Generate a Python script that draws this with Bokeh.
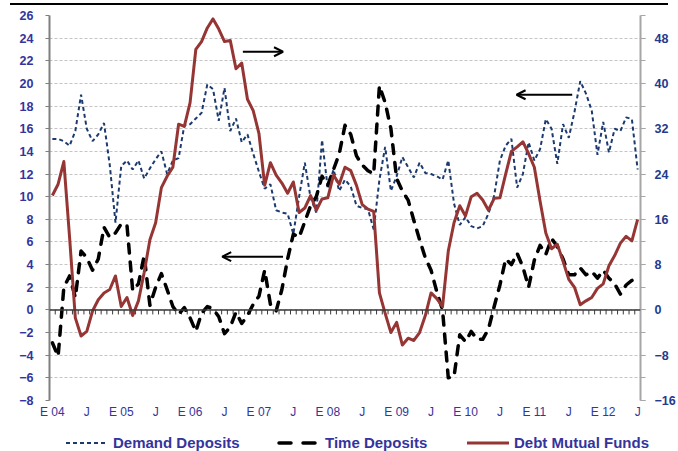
from bokeh.plotting import figure
from bokeh.models import (Range1d, LinearAxis, FixedTicker, SingleIntervalTicker,
                          Arrow, OpenHead, Span, Div)
from bokeh.layouts import column
from bokeh.embed import file_html
from bokeh.resources import INLINE

# Monthly observations, Jan 2004 .. Jul 2012 (annual growth, %)
months = list(range(103))

tick_positions = list(range(0, 103, 6))
tick_labels = ["E 04", "J", "E 05", "J", "E 06", "J", "E 07", "J", "E 08", "J",
               "E 09", "J", "E 10", "J", "E 11", "J", "E 12", "J"]

series_names = ["Demand Deposits", "Time Deposits", "Debt Mutual Funds"]

# left axis
demand_deposits = [
    15.1, 15.1, 14.9, 14.5, 15.8, 19.0, 16.0, 14.9, 15.5, 16.5, 12.8, 7.7,
    12.7, 13.2, 12.4, 13.2, 11.6, 12.5, 13.3, 14.0, 12.0, 13.2, 13.4, 16.3,
    16.4, 16.9, 17.4, 19.9, 19.5, 16.7, 19.6, 15.8, 16.9, 14.8, 15.5, 13.8,
    12.2, 10.7, 11.1, 8.8, 8.6, 8.5, 6.7, 10.0, 13.0, 9.9, 8.6, 15.0,
    10.7, 12.4, 10.5, 11.5, 10.9, 9.2, 9.0, 8.9, 7.1, 11.5, 14.4, 10.5,
    11.8, 13.5, 12.6, 11.7, 13.0, 12.1, 12.0, 11.8, 11.5, 13.2, 9.4, 7.5,
    8.2, 7.4, 7.2, 7.4, 8.5, 10.1, 13.2, 14.5, 15.1, 10.8, 12.0, 14.8,
    13.2, 14.2, 16.85, 16.0, 12.9, 16.4, 15.2, 17.5, 20.2, 19.1, 17.6, 13.7,
    16.6, 13.9, 16.0, 15.8, 17.0, 16.85, 12.4,
]

# left axis
time_deposits = [
    -2.9, -4.1, 2.0, 3.0, 1.1, 5.2, 4.6, 3.5, 4.5, 7.3, 6.4, 6.8,
    7.6, 7.5, 1.7, 2.3, 4.8, 0.4, 2.0, 3.2, 1.8, 0.3, -0.4, 0.2,
    -0.7, -1.9, -0.3, 0.3, 0.1, -0.6, -2.1, -1.5, -0.2, -1.2, -0.5, 0.5,
    1.2, 3.5, 0.5, -0.1, 1.8, 4.5, 6.7, 6.4, 7.8, 9.2, 10.0, 11.8,
    11.0, 12.4, 13.8, 16.3, 15.5, 13.6, 12.8, 12.3, 12.0, 19.8, 18.3, 16.0,
    11.6, 10.5, 9.7, 7.9, 6.2, 4.6, 3.5, 1.6, 0.0, -6.0, -5.9, -2.2,
    -2.8, -1.9, -2.6, -2.6, -1.7, 0.3, 2.2, 4.5, 4.0, 5.0, 3.8, 2.0,
    4.4, 5.7, 4.9, 6.3, 5.6, 4.5, 3.1, 3.1, 3.7, 3.1, 3.4, 2.8,
    3.5, 2.8, 2.3, 1.4, 2.2, 2.6, 2.9,
]

# right axis
debt_mutual_funds = [
    20.2, 22.2, 26.2, 12.8, -1.4, -4.6, -3.8, -0.2, 1.8, 3.0, 3.6, 6.0,
    0.6, 2.2, -1.0, 1.6, 6.6, 12.4, 15.4, 21.6, 23.6, 25.2, 32.8, 32.4,
    36.6, 46.0, 47.4, 49.8, 51.4, 49.6, 47.4, 47.6, 42.6, 43.6, 37.2, 35.2,
    31.2, 22.0, 26.0, 23.8, 22.4, 20.6, 22.6, 17.2, 18.0, 20.2, 17.6, 19.6,
    19.8, 23.8, 22.2, 25.2, 24.6, 22.0, 18.6, 17.8, 17.4, 3.0, -0.6, -4.0,
    -2.2, -6.2, -5.0, -5.4, -4.0, -1.0, 3.0, 2.0, 0.6, 10.4, 15.4, 18.4,
    16.6, 20.0, 20.6, 19.4, 17.6, 19.7, 19.8, 24.0, 28.0, 28.8, 29.7, 27.6,
    25.2, 19.2, 13.6, 10.8, 11.6, 8.6, 5.4, 4.0, 0.9, 1.6, 2.2, 3.8,
    4.6, 7.8, 9.6, 11.8, 13.0, 12.2, 16.0,
]

LABEL_BLUE = "#34349c"
RIGHT_BLUE = "#233a8e"
DEMAND_COLOR = "#1c3a6e"
DEBT_COLOR = "#963634"

p = figure(width=678, height=418, output_backend="svg", toolbar_location=None,
           x_range=Range1d(-0.5, len(months) - 0.5), y_range=Range1d(-8, 26),
           min_border_left=49, min_border_right=37, min_border_top=9,
           min_border_bottom=24)
p.outline_line_color = None
p.extra_y_ranges = {"right": Range1d(-16, 52)}

# horizontal grid
p.xgrid.visible = False
p.ygrid.ticker = SingleIntervalTicker(interval=2, num_minor_ticks=0)
p.ygrid.grid_line_color = "#c4c4c4"
p.ygrid.grid_line_dash = "3 2"
p.ygrid.grid_line_width = 1

# left axis
ly = p.yaxis[0]
ly.ticker = SingleIntervalTicker(interval=2, num_minor_ticks=0)
ly.axis_line_color = "#7f7f7f"
ly.axis_line_width = 2
ly.major_tick_line_color = "#7f7f7f"
ly.major_tick_out = 4
ly.major_tick_in = 0
ly.minor_tick_line_color = None
ly.minor_tick_out = 0
ly.major_label_standoff = 12
ly.major_label_text_font = "Liberation Sans"
ly.major_label_text_font_style = "bold"
ly.major_label_text_font_size = "12.5px"
ly.major_label_text_color = LABEL_BLUE

# right axis
ry = LinearAxis(y_range_name="right",
                ticker=SingleIntervalTicker(interval=8, num_minor_ticks=2))
ry.axis_line_color = "#a6a6a6"
ry.axis_line_width = 2
ry.major_tick_line_color = "#a6a6a6"
ry.minor_tick_line_color = "#a6a6a6"
ry.major_tick_out = 5
ry.major_tick_in = 0
ry.minor_tick_out = 5
ry.minor_tick_in = 0
ry.major_label_standoff = 9
ry.major_label_text_font = "Liberation Sans"
ry.major_label_text_font_style = "bold"
ry.major_label_text_font_size = "12.5px"
ry.major_label_text_color = RIGHT_BLUE
p.add_layout(ry, "right")

# bottom axis: labels only, the month ticks sit on the zero line
bx = p.xaxis[0]
bx.ticker = FixedTicker(ticks=tick_positions)
bx.major_label_overrides = {t: s for t, s in zip(tick_positions, tick_labels)}
bx.axis_line_color = None
bx.major_tick_line_color = None
bx.minor_tick_line_color = None
bx.major_tick_out = 0
bx.major_tick_in = 0
bx.minor_tick_out = 0
bx.major_label_standoff = 4
bx.major_label_text_font = "Liberation Sans"
bx.major_label_text_font_size = "12px"
bx.major_label_text_color = LABEL_BLUE

# zero line with a tick at every month boundary
p.add_layout(Span(location=0, dimension="width", line_color="#3a3a3a", line_width=1.5))
edges = [m - 0.5 for m in months] + [months[-1] + 0.5]
p.segment(x0=edges, y0=[0] * len(edges), x1=edges, y1=[-0.4] * len(edges),
          line_color="#3a3a3a", line_width=1)

p.line(months, demand_deposits, line_color=DEMAND_COLOR, line_width=2, line_dash="4 3")
p.line(months, time_deposits, line_color="black", line_width=3.5, line_dash="9 9",
       line_cap="round", line_join="round")
p.line(months, debt_mutual_funds, y_range_name="right", line_color=DEBT_COLOR,
       line_width=3, line_join="round")

# arrows showing which axis each series is read against
head = dict(size=9, line_width=2, line_color="black")
p.add_layout(Arrow(x_start=33.2, y_start=22.8, x_end=40.2, y_end=22.8,
                   end=OpenHead(**head), line_width=2, line_color="black"))
p.add_layout(Arrow(x_start=90.6, y_start=19.0, x_end=80.9, y_end=19.0,
                   end=OpenHead(**head), line_width=2, line_color="black"))
p.add_layout(Arrow(x_start=40.2, y_start=4.7, x_end=29.6, y_end=4.7,
                   end=OpenHead(**head), line_width=2, line_color="black"))

# key strip underneath the chart
key_samples = [
    '<line x1="66" y1="19" x2="108" y2="19" stroke="%s" stroke-width="2" '
    'stroke-dasharray="4 3"/>' % DEMAND_COLOR,
    '<line x1="279" y1="19" x2="316" y2="19" stroke="black" stroke-width="3.5" '
    'stroke-dasharray="12 12" stroke-linecap="round"/>',
    '<line x1="467" y1="19" x2="509" y2="19" stroke="%s" stroke-width="3"/>' % DEBT_COLOR,
]
key_text_x = [113, 325, 514]
key_svg = ['<svg xmlns="http://www.w3.org/2000/svg" width="678" height="27">']
for sample, tx, name in zip(key_samples, key_text_x, series_names):
    key_svg.append(sample)
    key_svg.append('<text x="%d" y="24" font-family="Liberation Sans" font-weight="bold" '
                   'font-size="15" fill="%s">%s</text>' % (tx, LABEL_BLUE, name))
key_svg.append('</svg>')
key = Div(text="".join(key_svg), width=678, height=27, margin=(0, 0, 0, 0))

rule = Div(text="", width=658, height=2, margin=(3, 0, 1, 10),
           styles={"background-color": "black"})

layout = column(rule, p, key, spacing=0)

open("out.html", "w").write(file_html(layout, INLINE))
